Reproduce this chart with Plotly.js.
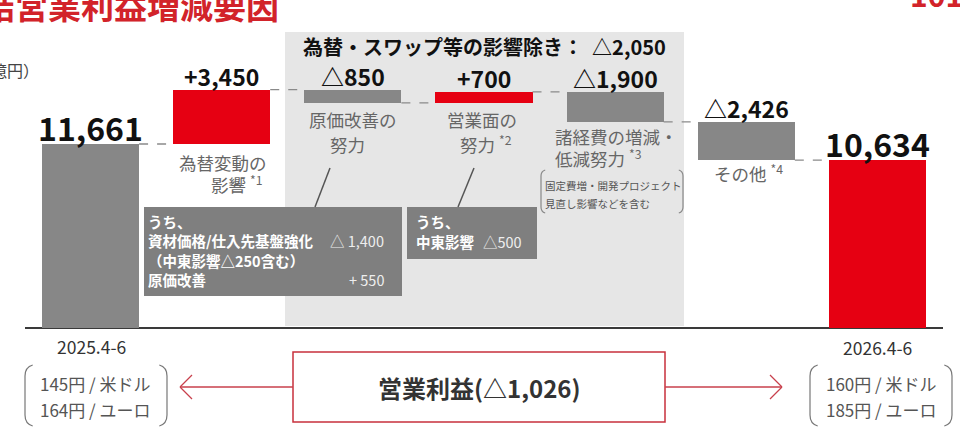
<!DOCTYPE html>
<html>
<head>
<meta charset="utf-8">
<script src="https://cdn.plot.ly/plotly-3.0.1.min.js"></script>
<style>
  html, body { margin: 0; padding: 0; background: #fff; }
  #chart { width: 960px; height: 447px; }
</style>
</head>
<body>
<div id="chart"></div>
<script>
// 連結営業利益の増減（億円）
const categories = ['2025.4-6', '為替変動の影響', '原価改善の努力', '営業面の努力', '諸経費の増減・低減努力', 'その他', '2026.4-6'];
const values = [11661, 3450, -850, 700, -1900, -2426, 10634];
const barKinds = ['total', 'delta', 'delta', 'delta', 'delta', 'delta', 'total'];
const valueLabels = ['11,661', '+3,450', '△850', '+700', '△1,900', '△2,426', '10,634'];
const periodLabels = ['2025.4-6', '2026.4-6'];
const fxBefore = ['145円 / 米ドル', '164円 / ユーロ'];
const fxAfter = ['160円 / 米ドル', '185円 / ユーロ'];

const GRAY = '#878787';
const RED = '#e60012';
const FONT = '"Noto Sans CJK JP", "Noto Sans", sans-serif';

// 積み上げの土台を計算
const bases = [];
const levels = [];
let run = 0;
values.forEach(function(v, i) {
    if (barKinds[i] === 'total') {
        bases.push(0);
        run = v;
    } else {
        bases.push(run);
        run += v;
    }
    levels.push(run);
});
const tops = values.map(function(v, i) { return Math.max(bases[i], bases[i] + v); });
const colors = values.map(function(v, i) {
    if (barKinds[i] === 'total') return i === 0 ? GRAY : RED;
    return v > 0 ? RED : GRAY;
});

// ピクセル -> paper 座標
const L = 25, R = 17, W = 960, H = 447;
function PX(x) { return (x - L) / (W - L - R); }
function PY(y) { return (H - y) / H; }

function label(text, x, y, opts) {
    return Object.assign({
        xref: 'paper', yref: 'paper', x: PX(x), y: PY(y), text: text,
        showarrow: false, xanchor: 'center', yanchor: 'middle',
        font: { family: FONT, size: 17.5, color: '#666' }
    }, opts || {});
}
function rect(x0, y0, x1, y1, opts) {
    return Object.assign({
        type: 'rect', xref: 'paper', yref: 'paper',
        x0: PX(x0), x1: PX(x1), y0: PY(y1), y1: PY(y0)
    }, opts);
}
function seg(x0, y0, x1, y1, color, width) {
    return {
        type: 'line', xref: 'paper', yref: 'paper',
        x0: PX(x0), y0: PY(y0), x1: PX(x1), y1: PY(y1),
        line: { color: color, width: width }
    };
}
function pt(x, y) { return PX(x).toFixed(5) + ',' + PY(y).toFixed(5); }
function bracket(x, y0, y1, dir, color, r) {
    const p = 'M' + pt(x + dir * r * 0.7, y0) +
        ' Q' + pt(x, y0 + r * 0.2) + ' ' + pt(x, y0 + r) +
        ' L' + pt(x, y1 - r) +
        ' Q' + pt(x, y1 - r * 0.2) + ' ' + pt(x + dir * r * 0.7, y1);
    return { type: 'path', xref: 'paper', yref: 'paper', path: p, line: { color: color, width: 1.2 } };
}

const trace = {
    type: 'bar',
    x: categories,
    y: values,
    base: bases,
    width: 0.74,
    marker: { color: colors, line: { width: 0 } },
    hoverinfo: 'skip',
    textposition: 'none'
};

const shapes = [];
// 為替・スワップ等の影響除き の網掛け
shapes.push(rect(285, 32, 684, 326, { fillcolor: '#e6e6e6', line: { width: 0 }, layer: 'below' }));

// 点線のつなぎ
for (let i = 0; i < values.length - 1; i++) {
    shapes.push({
        type: 'line', xref: 'x', yref: 'y',
        x0: i + 0.37, x1: i + 1 - 0.37, y0: levels[i], y1: levels[i],
        line: { color: '#8a8a8a', width: 1.3, dash: 'dash' }
    });
}

// 内訳ボックス
shapes.push(rect(144, 207, 402, 296, { fillcolor: '#7f7f7f', line: { width: 0 } }));
shapes.push(rect(407, 207, 537, 259, { fillcolor: '#7f7f7f', line: { width: 0 } }));
shapes.push(seg(315, 207, 330, 168, '#555', 1.5));
shapes.push(seg(458, 207, 474, 168, '#555', 1.5));

// 諸経費の注記カッコ
shapes.push(bracket(541, 170, 213, 1, '#888', 6));
shapes.push(bracket(683, 170, 213, -1, '#888', 6));

// 下段の為替レートのカッコ
shapes.push(bracket(25, 365, 426, 1, '#777', 11));
shapes.push(bracket(167, 365, 426, -1, '#777', 11));
shapes.push(bracket(810, 365, 426, 1, '#777', 11));
shapes.push(bracket(952, 365, 426, -1, '#777', 11));

// 営業利益ボックスと矢印
const ARROW = '#c8404c';
shapes.push(rect(293, 352, 665, 422, { fillcolor: '#fff', line: { color: '#c8303c', width: 1.5 } }));
shapes.push(seg(180, 387, 293, 387, ARROW, 1.3));
shapes.push(seg(180, 387, 192, 375, ARROW, 1.3));
shapes.push(seg(180, 387, 192, 399, ARROW, 1.3));
shapes.push(seg(665, 387, 782, 387, ARROW, 1.3));
shapes.push(seg(782, 387, 770, 375, ARROW, 1.3));
shapes.push(seg(782, 387, 770, 399, ARROW, 1.3));

const annotations = [];

// 見出し
annotations.push(label('<b>連結営業利益増減要因</b>', 281, 5, {
    xanchor: 'right', font: { family: FONT, size: 33, color: '#d2232a' }
}));
annotations.push(label('<b>101</b>', 908, -6, {
    xanchor: 'left', font: { family: FONT, size: 30, color: '#d2232a' }
}));
annotations.push(label('（億円）', 41, 70, {
    xanchor: 'right', font: { family: FONT, size: 16, color: '#444' }
}));
annotations.push(label('<b>為替・スワップ等の影響除き：  △2,050</b>', 485, 46, {
    font: { family: FONT, size: 20, color: '#111' }
}));

// 棒の数値ラベル
values.forEach(function(v, i) {
    const big = barKinds[i] === 'total';
    annotations.push({
        xref: 'x', yref: 'y', x: i, y: tops[i], text: '<b>' + valueLabels[i] + '</b>',
        showarrow: false, xanchor: 'center', yanchor: 'middle',
        yshift: big ? 17 : 14,
        font: { family: FONT, size: big ? 32 : 23, color: '#111' }
    });
});

// 項目名
annotations.push(label('為替変動の', 223, 162));
annotations.push(label('影響 <sup>*1</sup>', 236, 184));
annotations.push(label('原価改善の', 353, 119));
annotations.push(label('努力', 347, 144));
annotations.push(label('営業面の', 482, 119));
annotations.push(label('努力 <sup>*2</sup>', 486, 144));
annotations.push(label('諸経費の増減・', 553, 137, { xanchor: 'left' }));
annotations.push(label('低減努力 <sup>*3</sup>', 553, 158, { xanchor: 'left' }));
annotations.push(label('その他 <sup>*4</sup>', 748, 173));
annotations.push(label('固定費増・開発プロジェクト', 543, 186, {
    xanchor: 'left', font: { family: FONT, size: 10.5, color: '#555' }
}));
annotations.push(label('見直し影響などを含む', 543, 203, {
    xanchor: 'left', font: { family: FONT, size: 10.5, color: '#555' }
}));

// 内訳ボックスの文字
const WB = { family: FONT, size: 14.5, color: '#fff' };
const WN = { family: FONT, size: 14.5, color: '#eeeeee' };
annotations.push(label('<b>うち、</b>', 146, 222, { xanchor: 'left', font: WB }));
annotations.push(label('<b>資材価格/仕入先基盤強化</b>', 146, 241, { xanchor: 'left', font: WB }));
annotations.push(label('△ 1,400', 386, 241, { xanchor: 'right', font: WN }));
annotations.push(label('<b>（中東影響△250含む）</b>', 146, 260, { xanchor: 'left', font: WB }));
annotations.push(label('<b>原価改善</b>', 146, 279, { xanchor: 'left', font: WB }));
annotations.push(label('+ 550', 386, 279, { xanchor: 'right', font: WN }));
annotations.push(label('<b>うち、</b>', 414, 222, { xanchor: 'left', font: WB }));
annotations.push(label('<b>中東影響</b>', 414, 242, { xanchor: 'left', font: WB }));
annotations.push(label('△500', 481, 242, { xanchor: 'left', font: WN }));

// 下段
const PF = { family: FONT, size: 17.5, color: '#333' };
const FF = { family: FONT, size: 17, color: '#555' };
annotations.push(label(periodLabels[0], 91, 346, { font: PF }));
annotations.push(label(periodLabels[1], 877, 347, { font: PF }));
annotations.push(label(fxBefore[0], 95, 383, { font: FF }));
annotations.push(label(fxBefore[1], 95, 409, { font: FF }));
annotations.push(label(fxAfter[0], 881, 383, { font: FF }));
annotations.push(label(fxAfter[1], 881, 409, { font: FF }));
annotations.push(label('<b>営業利益(△1,026)</b>', 479, 387, { font: { family: FONT, size: 24, color: '#333' } }));

// 0 が 328px、11,661 が 144px になるように
const pxPerUnit = (328 - 144) / values[0];
const layout = {
    width: W,
    height: H,
    margin: { l: L, r: R, t: 0, b: 0 },
    paper_bgcolor: '#fff',
    plot_bgcolor: '#fff',
    showlegend: false,
    font: { family: FONT },
    bargap: 0,
    xaxis: {
        type: 'category', range: [-0.5, 6.5],
        showgrid: false, showticklabels: false, zeroline: false, showline: false, ticks: ''
    },
    yaxis: {
        range: [-(H - 328) / pxPerUnit, 328 / pxPerUnit],
        showgrid: false, showticklabels: false, ticks: '', showline: false,
        zeroline: true, zerolinecolor: '#3a3a3a', zerolinewidth: 1.3
    },
    shapes: shapes,
    annotations: annotations
};

Plotly.newPlot('chart', [trace], layout, { staticPlot: true, displayModeBar: false });
</script>
</body>
</html>
